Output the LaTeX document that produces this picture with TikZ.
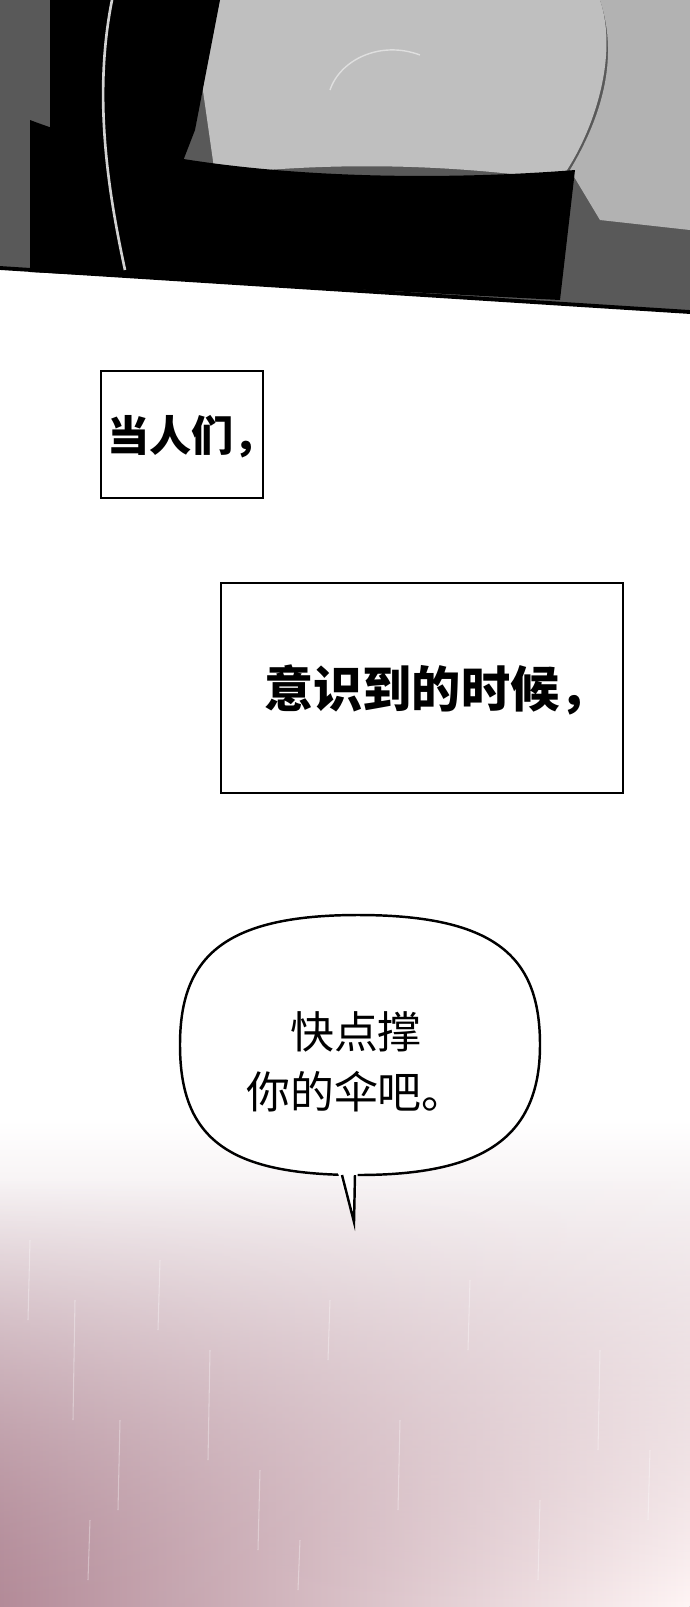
\documentclass[tikz,border=0pt]{standalone}
\usepackage{fontspec}
\newfontfamily\cjk{Noto Sans CJK SC}
\usetikzlibrary{fadings}
\begin{document}
\begin{tikzpicture}[x=0.02cm,y=-0.02cm,
        every node/.style={font=\cjk},
        caption/.style={draw=black, line width=1.4pt, fill=white, inner sep=0pt},
        rain/.style={white, opacity=0.35, line width=0.6pt}
    ]
        \useasboundingbox (0,0) rectangle (690,1607);

        % --- Panel superior ---
        \fill[gray!70!black] (0,0) -- (690,0) -- (690,312) -- (0,268) -- cycle;
        \fill[gray!50] (190,0) -- (600,0) .. controls (620,60) and (590,140) .. (560,180)
            .. controls (420,160) and (300,165) .. (215,175) -- cycle;
        \fill[gray!60] (600,0) -- (690,0) -- (690,230) -- (600,220) -- (570,170)
            .. controls (600,120) and (620,60) .. cycle;
        \fill[black] (30,120) .. controls (200,185) and (450,180) .. (575,170)
            -- (560,300) -- (30,272) -- cycle;
        \fill[black] (50,0) -- (220,0) -- (195,130) -- (140,272) -- (50,270) -- cycle;
        \draw[gray!35, line width=1.5pt] (112,0) .. controls (92,100) and (110,200) .. (125,270);
        \draw[gray!25, thick] (330,90) .. controls (340,60) and (380,40) .. (420,55);
        \draw[black, line width=2.2pt] (0,268) -- (690,312);

        % --- Cajas de texto ---
        \node[caption, minimum width=162*0.02cm, minimum height=127*0.02cm,
              anchor=north west] (box1) at (100,370) {};
        \node[font=\cjk\bfseries\fontsize{24}{28}\selectfont, anchor=west, inner sep=0pt]
            (t1) at (107,437) {当人们，};
        \node[caption, minimum width=402*0.02cm, minimum height=210*0.02cm,
              anchor=north west] (box2) at (220,582) {};
        \node[font=\cjk\bfseries\fontsize{28}{32}\selectfont, anchor=west, inner sep=0pt]
            (t2) at (264,690) {意识到的时候，};

        % --- Fondo inferior ---
        \shade[top color=white, bottom color=white!75!purple!60!gray] (0,1120) rectangle (690,1607);
        \shade[left color=gray!70!purple!70!white, right color=white!85!pink,
               path fading=north] (0,1180) rectangle (690,1607);
        \foreach \x/\y/\l in {30/1240/80, 75/1300/120, 120/1420/90, 160/1260/70, 210/1350/110,
                              260/1470/80, 330/1300/60, 400/1420/90, 470/1280/70, 540/1500/80,
                              600/1350/100, 650/1450/70, 90/1520/60, 300/1540/50}
            \draw[rain] (\x,\y) -- ++(-2,\l);

        % --- Globo de dialogo ---
        \draw[line width=1.4pt, fill=white] (358,915) .. controls (500,915) and (540,960) .. (540,1045)
            .. controls (540,1140) and (480,1175) .. (358,1175)
            .. controls (230,1175) and (180,1140) .. (180,1045)
            .. controls (180,960) and (220,915) .. (358,915) -- cycle;
        \fill[white] (337,1170) -- (354,1222) -- (358,1170) -- cycle;
        \draw[line width=1.4pt] (342,1175) -- (354,1222) -- (355,1175);
        \node[font=\cjk\fontsize{25}{34}\selectfont, align=left, inner sep=0pt] (t3) at (356,1062)
            {\hspace*{1em}快点撑\\你的伞吧。};
\end{tikzpicture}
\end{document}
